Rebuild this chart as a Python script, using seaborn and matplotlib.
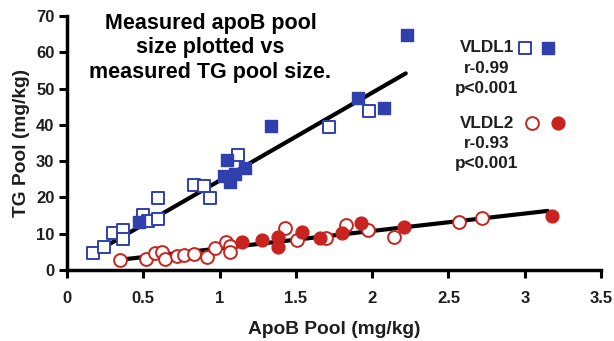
import numpy as np
import pandas as pd
import matplotlib
matplotlib.use("Agg")
import matplotlib.pyplot as plt
import seaborn as sns

# ---- data ----
vldl1_open_x = [0.17, 0.24, 0.30, 0.37, 0.37, 0.50, 0.53, 0.60, 0.60, 0.83, 0.90, 0.94, 1.12, 1.72, 1.98]
vldl1_open_y = [4.7, 6.3, 10.2, 11.0, 8.5, 15.2, 13.5, 14.0, 19.8, 23.4, 23.1, 19.8, 31.7, 39.4, 43.8]
vldl1_fill_x = [0.47, 1.03, 1.05, 1.07, 1.10, 1.17, 1.34, 1.91, 2.08, 2.23]
vldl1_fill_y = [13.2, 26.0, 30.3, 24.2, 26.5, 28.0, 39.7, 47.3, 44.6, 64.7]

vldl2_open_x = [0.35, 0.52, 0.58, 0.62, 0.64, 0.72, 0.77, 0.83, 0.92, 0.97, 1.04, 1.07, 1.07,
                1.43, 1.51, 1.70, 1.83, 1.97, 2.14, 2.57, 2.72]
vldl2_open_y = [2.9, 3.0, 4.6, 5.0, 3.0, 3.9, 4.1, 4.4, 3.6, 6.0, 7.7, 6.6, 5.0,
                11.5, 8.3, 8.9, 12.4, 11.0, 9.1, 13.2, 14.3]
vldl2_fill_x = [1.15, 1.28, 1.38, 1.38, 1.54, 1.66, 1.80, 1.93, 2.21, 3.18]
vldl2_fill_y = [7.7, 8.3, 9.0, 6.4, 10.5, 8.8, 10.3, 13.1, 11.9, 14.9]

vldl1_line_x = [0.28, 2.22]
vldl1_line_y = [7.2, 54.2]
vldl2_line_x = [0.38, 3.15]
vldl2_line_y = [3.0, 16.3]

x_ticks = [0, 0.5, 1, 1.5, 2, 2.5, 3, 3.5]
x_tick_labels = ["0", "0.5", "1", "1.5", "2", "2.5", "3", "3.5"]
y_ticks = [0, 10, 20, 30, 40, 50, 60, 70]

title_text = "Measured apoB pool\nsize plotted vs\nmeasured TG pool size."
legend1 = ["VLDL1", "r-0.99", "p<0.001"]
legend2 = ["VLDL2", "r-0.93", "p<0.001"]

BLUE = "#2F3FAE"
RED = "#C8231E"
TXT = "#1e1e1e"

sns.set_theme(style="ticks")
plt.rcParams["font.family"] = ["Liberation Sans", "DejaVu Sans"]
plt.rcParams["font.weight"] = "bold"

fig = plt.figure(figsize=(6.14, 3.41), dpi=100)
ax = fig.add_axes([0.109, 0.208, 0.870, 0.745])

sns.lineplot(x=vldl1_line_x, y=vldl1_line_y, color="black", lw=3, ax=ax, zorder=1)
sns.lineplot(x=vldl2_line_x, y=vldl2_line_y, color="black", lw=3, ax=ax, zorder=1)

ms = 85
sns.scatterplot(x=vldl1_open_x, y=vldl1_open_y, marker="s", s=ms, facecolor="white",
                edgecolor=BLUE, linewidth=1.4, ax=ax, zorder=3)
sns.scatterplot(x=vldl1_fill_x, y=vldl1_fill_y, marker="s", s=ms, facecolor=BLUE,
                edgecolor=BLUE, linewidth=1.0, ax=ax, zorder=3)
sns.scatterplot(x=vldl2_open_x, y=vldl2_open_y, marker="o", s=ms, facecolor="white",
                edgecolor=RED, linewidth=1.4, ax=ax, zorder=3)
sns.scatterplot(x=vldl2_fill_x, y=vldl2_fill_y, marker="o", s=ms, facecolor=RED,
                edgecolor=RED, linewidth=1.0, ax=ax, zorder=3)

ax.set_xlim(0, 3.5)
ax.set_ylim(0, 70)
ax.set_xticks(x_ticks)
ax.set_xticklabels(x_tick_labels)
ax.set_yticks(y_ticks)
for lab in ax.get_xticklabels() + ax.get_yticklabels():
    lab.set_fontweight("bold")
    lab.set_fontsize(12)
    lab.set_color(TXT)
ax.tick_params(axis="both", direction="out", length=6, width=2.2, color="black", pad=3)
ax.tick_params(axis="x", pad=9)
for side in ["top", "right"]:
    ax.spines[side].set_visible(False)
for side in ["left", "bottom"]:
    ax.spines[side].set_linewidth(2.5)
    ax.spines[side].set_color("black")

ax.set_xlabel("ApoB Pool (mg/kg)", fontsize=13.8, fontweight="bold", color=TXT, labelpad=11)
ax.set_ylabel("TG Pool (mg/kg)", fontsize=13.8, fontweight="bold", color=TXT, labelpad=4)

ax.text(0.94, 61.2, title_text, ha="center", va="center", fontsize=15.5, fontweight="bold",
        color="black", linespacing=1.2)

# legend-like annotation
tx = 2.75
fs = 12.3
for txt, yy in zip(legend1, [61.2, 55.6, 49.9]):
    ax.text(tx, yy, txt, ha="center", va="center", fontsize=fs, fontweight="bold", color=TXT)
for txt, yy in zip(legend2, [40.5, 35.0, 29.5]):
    ax.text(tx, yy, txt, ha="center", va="center", fontsize=fs, fontweight="bold", color=TXT)

sns.scatterplot(x=[3.00], y=[61.2], marker="s", s=ms, facecolor="white", edgecolor=BLUE,
                linewidth=1.4, ax=ax, zorder=3, clip_on=False)
sns.scatterplot(x=[3.15], y=[61.2], marker="s", s=ms, facecolor=BLUE, edgecolor=BLUE,
                linewidth=1.0, ax=ax, zorder=3, clip_on=False)
sns.scatterplot(x=[3.05], y=[40.5], marker="o", s=ms, facecolor="white", edgecolor=RED,
                linewidth=1.4, ax=ax, zorder=3, clip_on=False)
sns.scatterplot(x=[3.22], y=[40.5], marker="o", s=ms, facecolor=RED, edgecolor=RED,
                linewidth=1.0, ax=ax, zorder=3, clip_on=False)

fig.savefig("out.png", dpi=100)
